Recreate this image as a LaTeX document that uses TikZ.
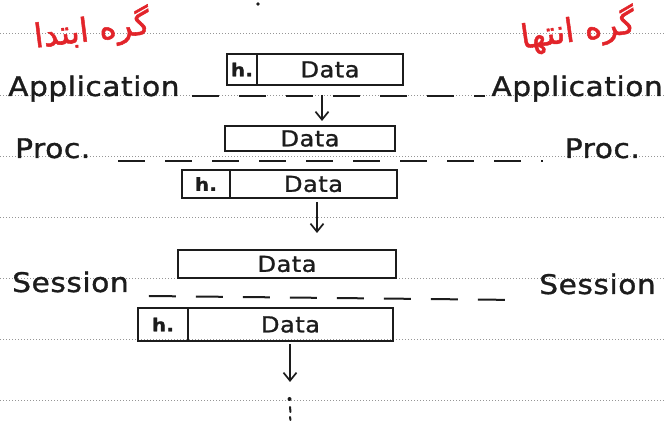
\documentclass[tikz,border=0pt]{standalone}
\usepackage{fontspec}
\usetikzlibrary{arrows.meta}
\TeXXeTstate=1
\newfontfamily\hand[FakeStretch=1.1,LetterSpace=2,FakeBold=1.2]{DejaVu Sans}
\newfontfamily\fa[Script=Arabic,FakeBold=1.5]{DejaVu Sans}
\definecolor{ink}{RGB}{28,28,28}
\definecolor{redink}{RGB}{226,36,42}
\definecolor{ruling}{RGB}{150,150,150}
\begin{document}
\begin{tikzpicture}[x=1pt,y=-1pt,
  ruled/.style={ruling, line width=0.9pt, dash pattern=on 1.2pt off 1.8pt},
  layer/.style={font=\hand\fontsize{27}{30}\selectfont, text=ink, inner sep=0pt},
  redlabel/.style={font=\fa\fontsize{33}{36}\selectfont, text=redink, inner sep=0pt},
  cell/.style={draw=ink, line width=1.9pt, inner sep=0pt, outer sep=0pt, text=ink},
  hcell/.style={cell, font=\hand\fontsize{18}{20}\selectfont\bfseries},
  dcell/.style={cell, font=\hand\fontsize{22}{24}\selectfont},
  peer/.style={draw=ink, line width=2pt, dash pattern=on 27pt off 20pt},
  flow/.style={draw=ink, line width=1.7pt, -{Straight Barb[length=8pt,width=13pt]}}]
\useasboundingbox (0,0) rectangle (664,427);
% ruled lines
\foreach \yy in {33,95,156,217,278,339,400}
  \draw[ruled] (0,\yy) -- (664,\yy);
% stray dot
\fill[ink] (258,4) circle (1.8pt);
% red headings
\node[redlabel, rotate=7] (startnode) at (92,30) {\beginR گره ابتدا\endR};
\node[redlabel, rotate=8] (endnode) at (578,30) {\beginR گره انتها\endR};
% layer labels
\node[layer, anchor=base west] (appL) at (8,96) {Application};
\node[layer, anchor=base east] (appR) at (663,96) {Application};
\node[layer, anchor=base west] (procL) at (15,158) {Proc.};
\node[layer, anchor=base east] (procR) at (640,158) {Proc.};
\node[layer, anchor=base west] (sesL) at (12,292) {Session};
\node[layer, anchor=base east] (sesR) at (656,294) {Session};
% peer dashed lines
\draw[peer] ([xshift=12pt]appL.base east) -- ([xshift=-6pt]appR.base west);
\draw[peer] ([xshift=28pt,yshift=-3pt]procL.base east) -- ([xshift=-22pt,yshift=-3pt]procR.base west);
\draw[peer] ([xshift=20pt,yshift=-4pt]sesL.base east) -- ([xshift=-20pt,yshift=-6pt]sesR.base west);
% box 1
\node[hcell, minimum width=30pt, minimum height=31pt, anchor=north west] (h1) at (227,54) {h.};
\node[dcell, minimum width=146pt, minimum height=31pt, anchor=west] (d1) at (h1.east) {Data};
% box 2
\node[dcell, minimum width=170pt, minimum height=25pt, anchor=north west] (d2) at (225,126) {Data};
% box 3
\node[hcell, minimum width=48pt, minimum height=28pt, anchor=north west] (h3) at (182,170) {h.};
\node[dcell, minimum width=167pt, minimum height=28pt, anchor=west] (d3) at (h3.east) {Data};
% box 4
\node[dcell, minimum width=218pt, minimum height=28pt, anchor=north west] (d4) at (178,250) {Data};
% box 5
\node[hcell, minimum width=50pt, minimum height=33pt, anchor=north west] (h5) at (138,308) {h.};
\node[dcell, minimum width=205pt, minimum height=33pt, anchor=west] (d5) at (h5.east) {Data};
% arrows
\coordinate (a1) at (322,0);
\coordinate (a2) at (317,0);
\coordinate (e3) at (290,382);
\draw[flow, shorten <=10pt, shorten >=5pt] (d1.south -| a1) -- (d2.north -| a1);
\draw[flow, shorten <=4pt, shorten >=17pt] (d3.south -| a2) -- (d4.north -| a2);
\draw[flow, shorten <=3pt] (d5.south -| e3) -- (e3);
% continuation dots
\fill[ink] (289.5,399) circle (2pt);
\draw[ink, line width=2pt, line cap=round] (290,407) -- (290.5,412);
\draw[ink, line width=2pt, line cap=round] (290,417) -- (290.5,420);
\end{tikzpicture}
\end{document}
